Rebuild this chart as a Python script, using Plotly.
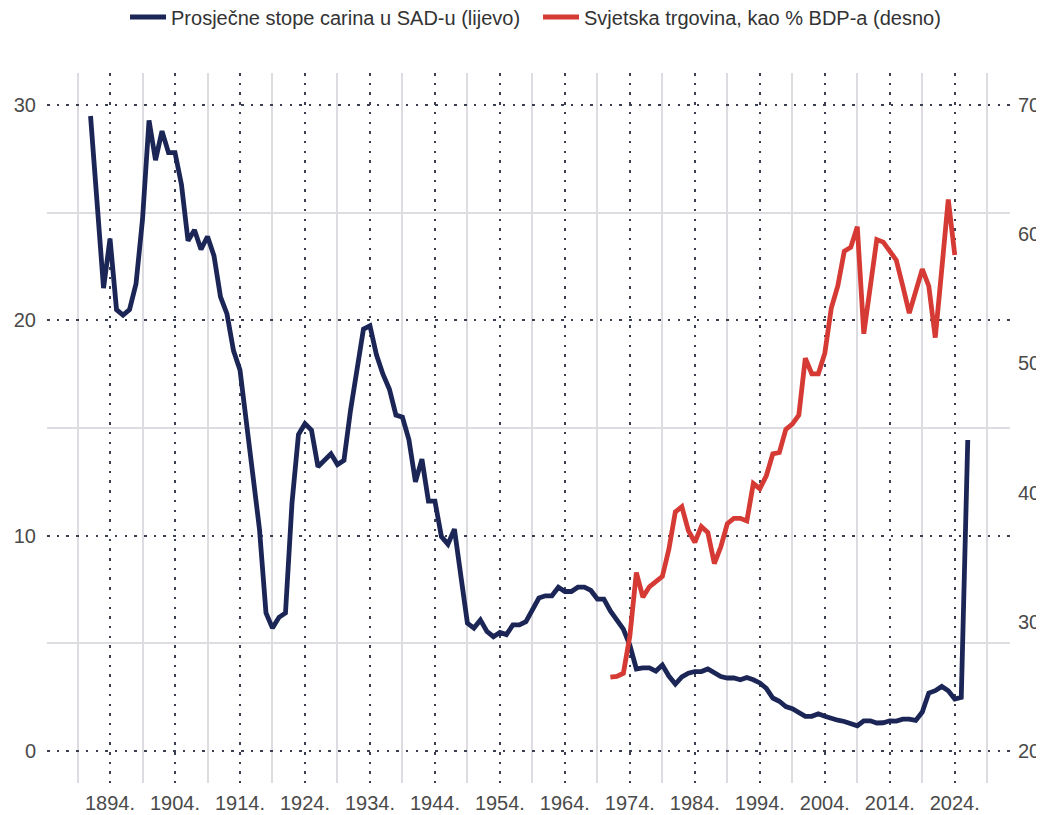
import plotly.graph_objects as go

# --- data ---
tariff_years = list(range(1891, 2027))
tariff_values = [
    29.5, 25.5, 21.5, 23.8, 20.5, 20.25, 20.5, 21.7, 24.7, 29.3,  # 1891-1900
    27.45, 28.8, 27.8, 27.8, 26.3, 23.7, 24.2, 23.3, 23.9, 23.0,  # 1901-1910
    21.1, 20.3, 18.6, 17.7, 15.1, 12.7, 10.3, 6.4, 5.7, 6.2,      # 1911-1920
    6.4, 11.5, 14.7, 15.2, 14.9, 13.2, 13.5, 13.8, 13.3, 13.5,    # 1921-1930
    15.8, 17.7, 19.6, 19.75, 18.4, 17.5, 16.8, 15.6, 15.5, 14.45, # 1931-1940
    12.5, 13.55, 11.6, 11.6, 9.95, 9.6, 10.3, 8.1, 5.93, 5.7,     # 1941-1950
    6.08, 5.55, 5.3, 5.5, 5.4, 5.85, 5.85, 6.0, 6.55, 7.1,        # 1951-1960
    7.2, 7.2, 7.6, 7.4, 7.4, 7.6, 7.6, 7.45, 7.05, 7.05,          # 1961-1970
    6.5, 6.1, 5.65, 4.9, 3.8, 3.85, 3.85, 3.7, 3.98, 3.47,        # 1971-1980
    3.1, 3.43, 3.6, 3.68, 3.68, 3.8, 3.6, 3.45, 3.38, 3.38,       # 1981-1990
    3.3, 3.4, 3.3, 3.15, 2.9, 2.45, 2.3, 2.05, 1.95, 1.8,         # 1991-2000
    1.6, 1.6, 1.72, 1.6, 1.5, 1.42, 1.36, 1.28, 1.16, 1.39,       # 2001-2010
    1.39, 1.29, 1.3, 1.39, 1.38, 1.47, 1.47, 1.41, 1.8, 2.68,     # 2011-2020
    2.79, 2.99, 2.79, 2.4, 2.48, 14.44,                           # 2021-2026
]

trade_years = list(range(1971, 2025))
trade_values = [
    25.7, 25.75, 26.0, 28.9, 33.8, 31.9, 32.7, 33.1, 33.5, 35.6,  # 1971-1980
    38.5, 38.9, 37.05, 36.15, 37.36, 36.9, 34.5, 35.8, 37.6, 38.0, # 1981-1990
    38.0, 37.8, 40.7, 40.3, 41.3, 43.0, 43.1, 44.9, 45.3, 46.0,   # 1991-2000
    50.4, 49.2, 49.2, 50.8, 54.3, 56.0, 58.7, 59.0, 60.6, 52.3,   # 2001-2010
    56.1, 59.6, 59.4, 58.7, 58.0, 56.0, 53.9, 55.6, 57.3, 56.0,   # 2011-2020
    52.0, 57.3, 62.7, 58.4,                                       # 2021-2024
]

names = ["Prosječne stope carina u SAD-u (lijevo)", "Svjetska trgovina, kao % BDP-a (desno)"]
colors = ["#1b2656", "#d63a34"]

FONT = "Liberation Sans, Arial, Helvetica, sans-serif"
DOT = "2.5px,7.2px"
DOTCOL = "#3b3f52"
LIGHT = "#dcdce1"

# The page body adds an 8px margin, so the figure is sized 8px smaller.
W, H = 1036, 807

fig = go.Figure()
fig.add_trace(go.Scatter(x=tariff_years, y=tariff_values, name=names[0], mode="lines",
                         line=dict(color=colors[0], width=4.8), yaxis="y"))
fig.add_trace(go.Scatter(x=trade_years, y=trade_values, name=names[1], mode="lines",
                         line=dict(color=colors[1], width=4.8), yaxis="y2"))

fig.update_layout(
    width=W, height=H,
    margin=dict(l=39, r=34, t=65, b=32, autoexpand=False),
    paper_bgcolor="white", plot_bgcolor="white",
    font=dict(family=FONT, size=20, color="#4a4a4a"),
    showlegend=True,
    legend=dict(orientation="h", xref="container", x=0.5116, xanchor="center",
                yref="container", y=1 - 9 / H, yanchor="middle",
                font=dict(size=20, color="#333333"), bgcolor="rgba(0,0,0,0)",
                itemwidth=36, entrywidth=362, tracegroupgap=0),
    xaxis=dict(range=[1884.3, 2032.5], tick0=1894, dtick=10, ticksuffix=".",
               tickformat="d", showgrid=True, gridcolor=DOTCOL, gridwidth=2.2,
               griddash=DOT, zeroline=False, showline=False, ticks="",
               ticklabelstandoff=6,
               minor=dict(tick0=1889, dtick=10, showgrid=True, gridcolor=LIGHT,
                          gridwidth=1.6, griddash="solid", ticks="")),
    yaxis=dict(range=[-1.5, 31.5], tick0=0, dtick=10, showgrid=True, gridcolor=DOTCOL,
               gridwidth=2.2, griddash=DOT, zeroline=False, showline=False, ticks="",
               ticklabelstandoff=10,
               minor=dict(tick0=5, dtick=10, showgrid=True, gridcolor=LIGHT,
                          gridwidth=1.6, griddash="solid", ticks="")),
    yaxis2=dict(range=[17.5, 72.5], tick0=20, dtick=10, overlaying="y", side="right",
                showgrid=False, zeroline=False, showline=False, ticks="",
                ticklabelstandoff=7),
)

fig.write_html("out.html")
